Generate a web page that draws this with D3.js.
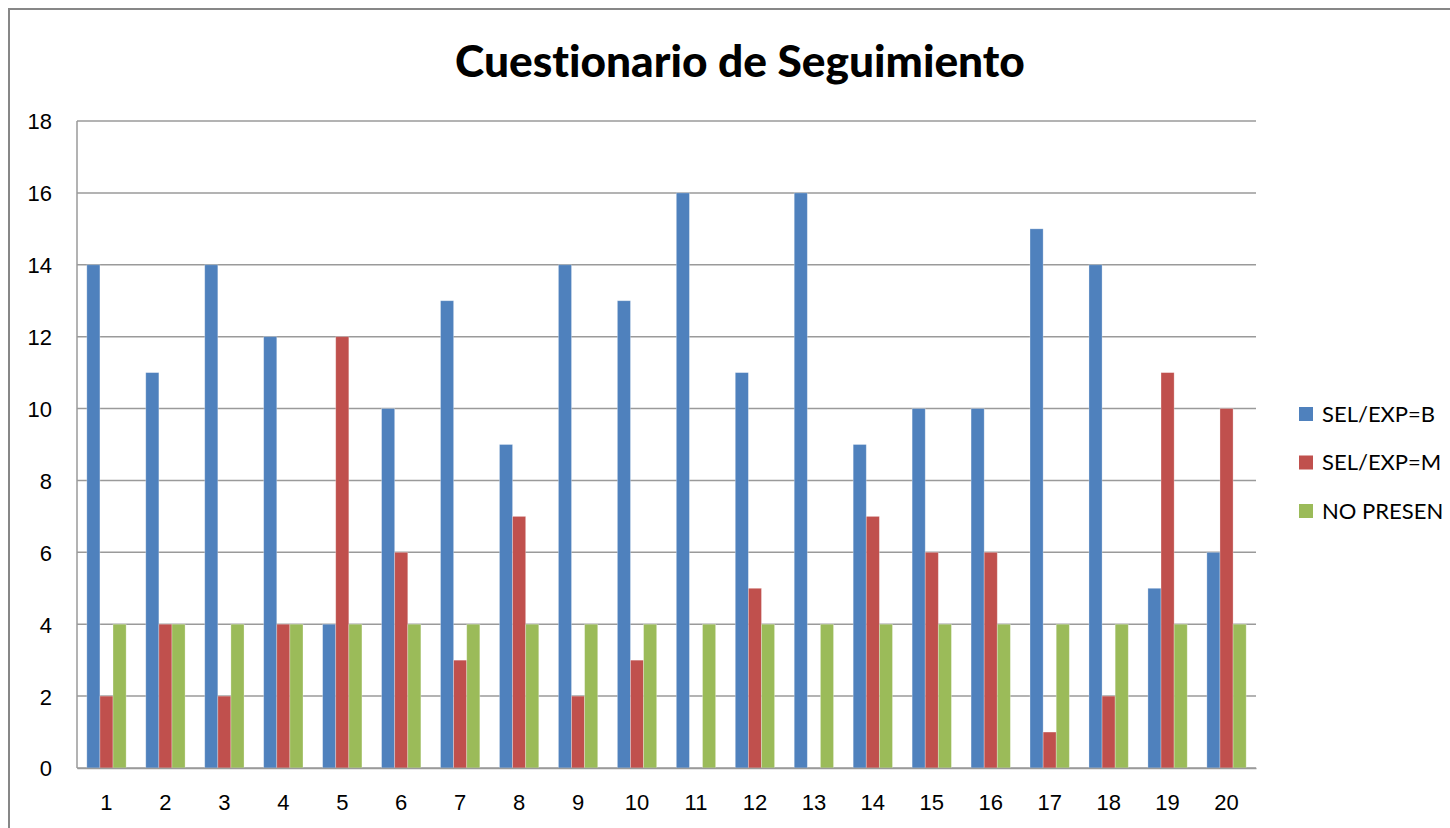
<!DOCTYPE html>
<html lang="es">
<head>
<meta charset="utf-8"/>
<title>Cuestionario de Seguimiento</title>
<script src="https://d3js.org/d3.v7.min.js"></script>
<style>
  body { margin: 0; background: #fff; }
  svg { display: block; font-family: Lato, "Open Sans", sans-serif; font-variant-ligatures: none; }
  .grid line { stroke: #9a9a9a; stroke-width: 1.5px; }
  .axis text { font-size: 22px; fill: #000; }
  .legend text { font-size: 22px; fill: #000; }
</style>
</head>
<body>
<div id="chart"></div>
<script>
// data
var categories = ["1","2","3","4","5","6","7","8","9","10","11","12","13","14","15","16","17","18","19","20"];
var seriesNames = ["SEL/EXP=B", "SEL/EXP=M", "NO PRESEN"];
var selB   = [14, 11, 14, 12, 4, 10, 13, 9, 14, 13, 16, 11, 16, 9, 10, 10, 15, 14, 5, 6];
var selM   = [2, 4, 2, 4, 12, 6, 3, 7, 2, 3, 0, 5, 0, 7, 6, 6, 1, 2, 11, 10];
var noPres = [4, 4, 4, 4, 4, 4, 4, 4, 4, 4, 4, 4, 4, 4, 4, 4, 4, 4, 4, 4];
var yTicks = [0, 2, 4, 6, 8, 10, 12, 14, 16, 18];
var colors = ["#4f81bd", "#c0504d", "#9bbb59"];

var width = 1450, height = 828;
var plot = {left: 77, right: 1256, top: 121, bottom: 768};

var svg = d3.select("#chart").append("svg")
    .attr("width", width)
    .attr("height", height);

// chart frame (runs off the right and bottom edges)
svg.append("rect")
    .attr("x", 9).attr("y", 9)
    .attr("width", width + 20).attr("height", height + 20)
    .attr("fill", "none")
    .attr("stroke", "#878787")
    .attr("stroke-width", 2);

var rows = categories.map(function(c, i) {
  return {cat: c, vals: [selB[i], selM[i], noPres[i]]};
});

var x0 = d3.scaleBand()
    .domain(categories)
    .range([plot.left, plot.right]);

// excel style: gap width 150% of one bar
var barW = x0.bandwidth() / 4.5;
var x1 = d3.scaleBand()
    .domain(d3.range(seriesNames.length))
    .range([barW * 0.75, barW * 0.75 + barW * 3]);

var y = d3.scaleLinear()
    .domain([0, 18])
    .range([plot.bottom, plot.top]);

// gridlines
svg.append("g")
    .attr("class", "grid")
    .selectAll("line")
    .data(yTicks)
    .enter().append("line")
      .attr("x1", plot.left).attr("x2", plot.right)
      .attr("y1", function(d) { return y(d); })
      .attr("y2", function(d) { return y(d); });

// bars
svg.append("g")
  .selectAll("g")
  .data(rows)
  .enter().append("g")
    .attr("transform", function(d) { return "translate(" + x0(d.cat) + ",0)"; })
  .selectAll("rect")
  .data(function(d) { return d.vals; })
  .enter().append("rect")
    .attr("x", function(d, i) { return x1(i); })
    .attr("y", function(d) { return y(d); })
    .attr("width", x1.bandwidth())
    .attr("height", function(d) { return y(0) - y(d); })
    .attr("fill", function(d, i) { return colors[i]; })
    .attr("stroke", "rgba(255,255,255,0.35)")
    .attr("stroke-width", 0.8);

// value axis line
svg.append("line")
    .attr("x1", plot.left).attr("x2", plot.left)
    .attr("y1", plot.top).attr("y2", plot.bottom)
    .attr("stroke", "#9a9a9a").attr("stroke-width", 1.5);

// y axis
var yAxis = svg.append("g")
    .attr("class", "axis")
    .attr("transform", "translate(" + plot.left + ",0)")
    .call(d3.axisLeft(y).tickValues(yTicks).tickSize(0).tickPadding(25));
yAxis.select(".domain").remove();
yAxis.selectAll("text").attr("dy", "0.36em");

// x axis
var xAxis = svg.append("g")
    .attr("class", "axis")
    .attr("transform", "translate(0," + plot.bottom + ")")
    .call(d3.axisBottom(x0).tickSize(0).tickPadding(26));
xAxis.select(".domain")
    .attr("stroke", "#9a9a9a").attr("stroke-width", 1.5);

// title
var title = svg.append("text")
    .attr("x", 740)
    .attr("y", 77)
    .attr("text-anchor", "middle")
    .attr("font-weight", "900")
    .attr("font-size", 46)
    .text("Cuestionario de Seguimiento");
var tw = title.node().getComputedTextLength();
title.attr("font-size", 46 * 570 / tw);

// legend
var legend = svg.append("g")
    .attr("class", "legend")
    .selectAll("g")
    .data(seriesNames)
    .enter().append("g")
      .attr("transform", function(d, i) { return "translate(1299," + (407 + i * 48.5) + ")"; });

legend.append("rect")
    .attr("width", 14).attr("height", 14)
    .attr("fill", function(d, i) { return colors[i]; });

legend.append("text")
    .attr("x", 23)
    .attr("y", 7)
    .attr("dy", "0.36em")
    .text(function(d) { return d; });
</script>
</body>
</html>
